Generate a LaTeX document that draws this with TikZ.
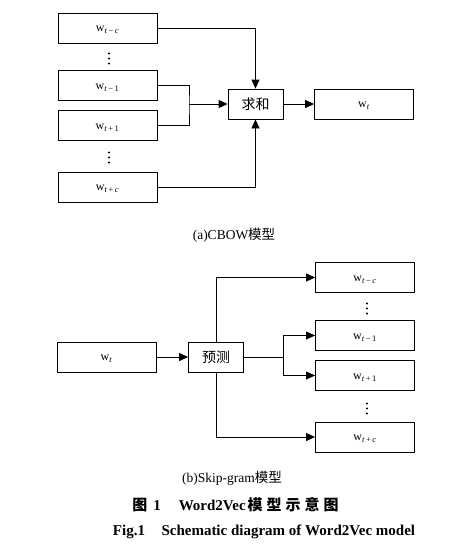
\documentclass[tikz,border=0pt]{standalone}
\usepackage{fontspec}
\usepackage{amsmath}
\setmainfont{Liberation Serif}
\newfontfamily\cjk{Noto Sans CJK SC}
\usetikzlibrary{arrows.meta}

\newcommand{\wsub}[1]{w\textsubscript{\fontsize{8.5}{9}\selectfont #1}}
\newcommand{\ct}{\textit{t}}
\newcommand{\cc}{\textit{c}}

\tikzset{
  wbox/.style={draw, line width=0.8pt, minimum width=99pt, minimum height=30pt,
    inner sep=0pt, text height=7.5pt, text depth=0pt, font=\fontsize{12}{13}\selectfont},
  opbox/.style={draw, line width=0.8pt, minimum width=55pt, minimum height=30pt,
    inner sep=0pt, font=\cjk\fontsize{14}{16}\selectfont},
  link/.style={line width=0.8pt, -{Triangle[length=9pt,width=8pt]}},
  caption/.style={font=\fontsize{13.5}{15}\selectfont}
}

\begin{document}
\begin{tikzpicture}[x=1pt, y=-1pt]
    \useasboundingbox (0,0) rectangle (470,549);
    \def \lx {107.5} % left column, centre
    \def \rx {365}   % right column, centre
    % (a) CBOW
    \node[wbox] (cm) at (\lx,28) {\wsub{\ct\,−\,\cc}};
    \node[wbox] (cp) at (\lx,85.5) {\wsub{\ct\,−\,1}};
    \node[wbox] (cn) at (\lx,125.5) {\wsub{\ct\,+\,1}};
    \node[wbox] (cc) at (\lx,187) {\wsub{\ct\,+\,\cc}};
    \foreach \y in {53.5,152.5}
      \foreach \d in {0,5,10}
        \fill (\lx+1.5,\y+\d) circle (1.2pt);
    \node[opbox] (sum) at (255.5,104) {求和};
    \node[wbox] (cw) at (364,104) {\wsub{\ct}};
    \coordinate (join) at (189,104);
    \draw[link] (cm.east) -| (sum.north);
    \draw[link] (cc.east) -| (sum.south);
    \draw[line width=0.8pt] (cp.east) -| (join) |- (cn.east);
    \draw[link] (join) -- (sum.west);
    \draw[link] (sum.east) -- (cw.west);
    \node[caption] (capa) at (234,235) {(a)CBOW{\cjk 模型}};

    % (b) Skip-gram
    \node[wbox] (sw) at (\lx-1,357) {\wsub{\ct}};
    \node[opbox] (pred) at (216,357) {预测};
    \node[wbox] (sm) at (\rx,277.5) {\wsub{\ct\,−\,\cc}};
    \node[wbox] (sp) at (\rx,335.5) {\wsub{\ct\,−\,1}};
    \node[wbox] (sn) at (\rx,375.5) {\wsub{\ct\,+\,1}};
    \node[wbox] (sc) at (\rx,437) {\wsub{\ct\,+\,\cc}};
    \foreach \y in {303.5,403.5}
      \foreach \d in {0,5,10}
        \fill (\rx+2,\y+\d) circle (1.2pt);
    \coordinate (fork) at (283,357);
    \draw[link] (sw.east) -- (pred.west);
    \draw[link] (pred.north) |- (sm.west);
    \draw[link] (pred.south) |- (sc.west);
    \draw[line width=0.8pt] (pred.east) -- (fork);
    \draw[link] (fork) |- (sp.west);
    \draw[link] (fork) |- (sn.west);
    \node[caption] (capb) at (232,478) {(b)Skip-gram{\cjk 模型}};

    % figure caption
    \node[font=\bfseries\fontsize{15}{17}\selectfont] (capzh) at (235.5,505)
      {{\cjk\bfseries 图}\hspace{6pt}1\hspace{18pt}Word2Vec\hspace{2pt}{\cjk\bfseries
       模\hspace{4pt}型\hspace{4pt}示\hspace{4pt}意\hspace{4pt}图}};
    \node[font=\bfseries\fontsize{15}{17}\selectfont] (capen) at (264,532)
      {Fig.1\hspace{1.1em}Schematic diagram of Word2Vec model};
\end{tikzpicture}
\end{document}
